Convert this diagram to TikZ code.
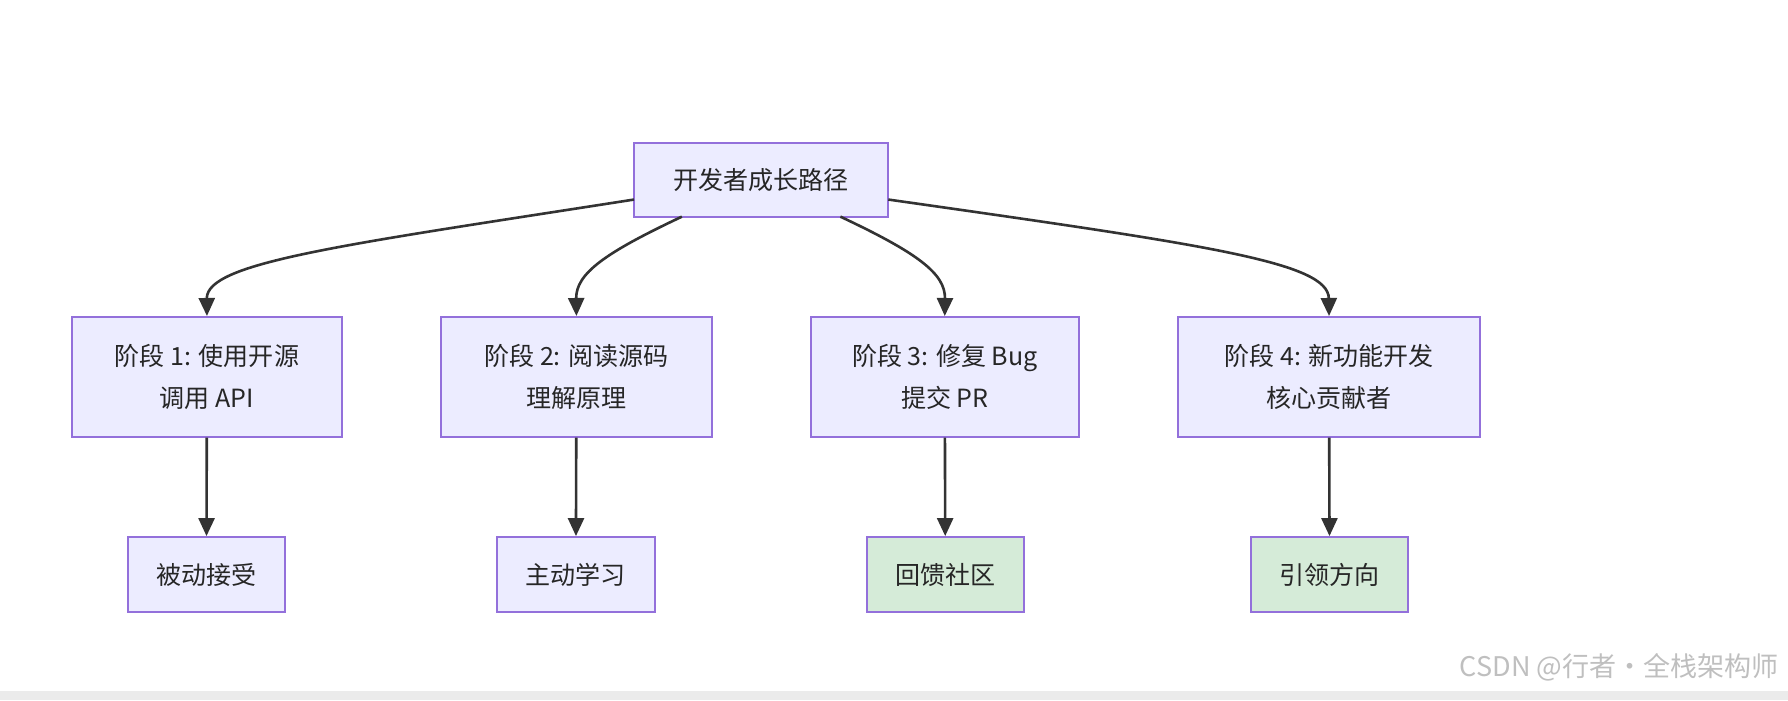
\documentclass[tikz,border=0pt]{standalone}
\usepackage{fontspec}
\setmainfont{Noto Sans CJK SC}
\usetikzlibrary{arrows.meta}
\definecolor{boxfill}{HTML}{ECECFF}
\definecolor{boxline}{HTML}{9370DB}
\definecolor{greenfill}{HTML}{D5EBD8}
\definecolor{edge}{HTML}{333333}
\tikzset{
  box/.style={draw=boxline, fill=boxfill, line width=1pt, inner sep=0pt, align=center, font=\fontsize{12.5}{21}\selectfont, text=black!85},
  gbox/.style={box, fill=greenfill},
  conn/.style={draw=edge, line width=1.3pt, -{Triangle[length=9pt,width=8pt]}}
}
\begin{document}
\begin{tikzpicture}[x=0.02cm,y=-0.02cm]
\useasboundingbox (0,0) rectangle (1568,614);
\fill[black!8] (0,606) rectangle (1568,614);
\node[box, minimum width=223*0.02cm, minimum height=65*0.02cm] (root) at (667.5,157.5) {开发者成长路径};
\node[box, minimum width=237*0.02cm, minimum height=105*0.02cm] (s1) at (181.5,330.5) {阶段 1: 使用开源\\调用 API};
\node[box, minimum width=237*0.02cm, minimum height=105*0.02cm] (s2) at (505.5,330.5) {阶段 2: 阅读源码\\理解原理};
\node[box, minimum width=235*0.02cm, minimum height=105*0.02cm] (s3) at (828.5,330.5) {阶段 3: 修复 Bug\\提交 PR};
\node[box, minimum width=265*0.02cm, minimum height=105*0.02cm] (s4) at (1165.5,330.5) {阶段 4: 新功能开发\\核心贡献者};
\node[box, minimum width=138*0.02cm, minimum height=66*0.02cm] (b1) at (181,504) {被动接受};
\node[box, minimum width=138*0.02cm, minimum height=66*0.02cm] (b2) at (505,504) {主动学习};
\node[gbox, minimum width=138*0.02cm, minimum height=66*0.02cm] (b3) at (829,504) {回馈社区};
\node[gbox, minimum width=138*0.02cm, minimum height=66*0.02cm] (b4) at (1166,504) {引领方向};
\coordinate (r1) at (556,175);
\coordinate (r2) at (598,190);
\coordinate (r3) at (737,190);
\coordinate (r4) at (779,175);
\draw[conn] (r1) .. controls (300,215) and (181,230) .. (s1.north);
\draw[conn] (r2) .. controls (530,222) and (505,240) .. (s2.north);
\draw[conn] (r3) .. controls (805,222) and (829,240) .. (s3.north);
\draw[conn] (r4) .. controls (1060,215) and (1165,230) .. (s4.north);
\draw[conn] (s1) -- (b1);
\draw[conn] (s2) -- (b2);
\draw[conn] (s3) -- (b3);
\draw[conn] (s4) -- (b4);
\node[text=black!25, font=\fontsize{13.5}{16}\selectfont, anchor=east] (wm) at (1566,585) {CSDN @行者·全栈架构师};
\end{tikzpicture}
\end{document}
